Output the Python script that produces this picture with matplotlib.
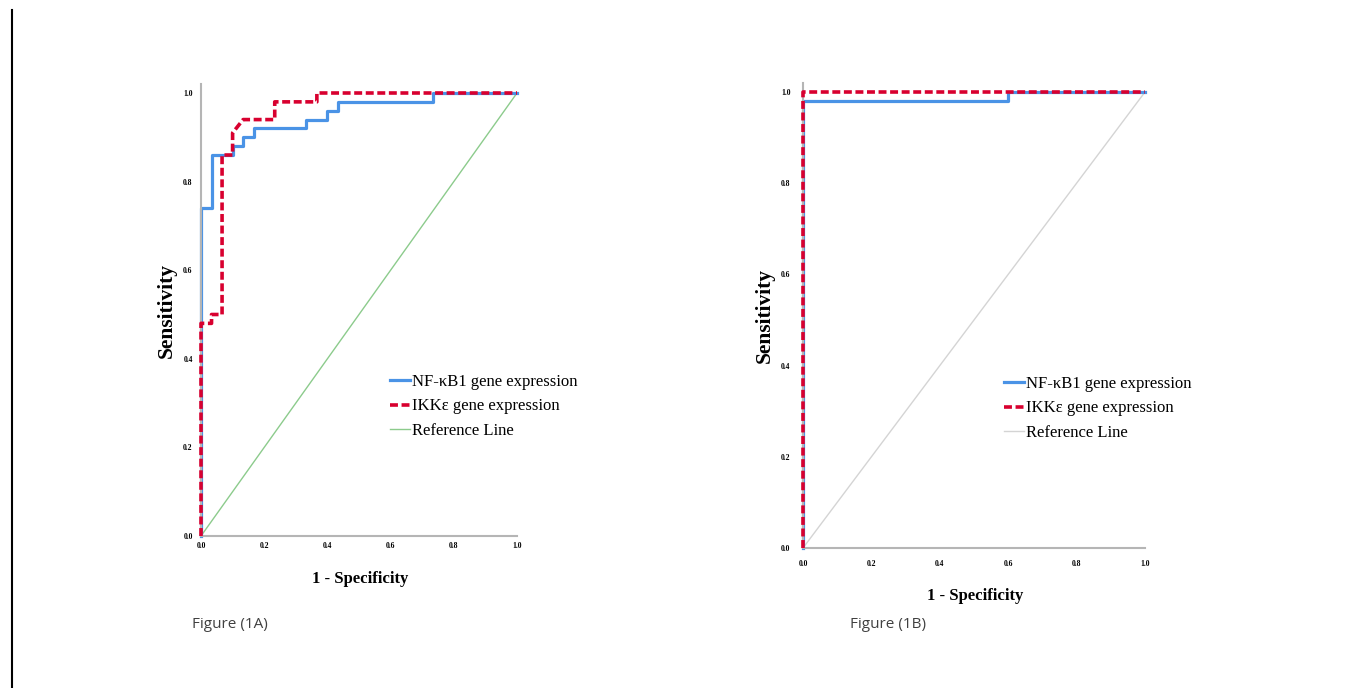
import matplotlib
matplotlib.use("Agg")
import matplotlib.pyplot as plt
from matplotlib.lines import Line2D

# ROC corner points (fpr = 1 - specificity)
a_nfkb_fpr = [0, 0, 1/30, 1/30, 3/30, 3/30, 4/30, 4/30, 5/30, 5/30, 10/30, 10/30,
              12/30, 12/30, 13/30, 13/30, 22/30, 22/30, 1]
a_nfkb_tpr = [0, 0.74, 0.74, 0.86, 0.86, 0.88, 0.88, 0.90, 0.90, 0.92, 0.92, 0.94,
              0.94, 0.96, 0.96, 0.98, 0.98, 1.0, 1.0]
a_ikk_fpr = [0, 0, 1/30, 1/30, 2/30, 2/30, 3/30, 3/30, 4/30, 7/30, 7/30, 11/30, 11/30, 1]
a_ikk_tpr = [0, 0.48, 0.48, 0.50, 0.50, 0.86, 0.86, 0.91, 0.94, 0.94, 0.98, 0.98, 1.0, 1.0]

b_nfkb_fpr = [0, 0, 18/30, 18/30, 1]
b_nfkb_tpr = [0, 0.98, 0.98, 1.0, 1.0]
b_ikk_fpr = [0, 0, 1]
b_ikk_tpr = [0, 1.0, 1.0]

ref_line = [0, 1]
ticks = [0.0, 0.2, 0.4, 0.6, 0.8, 1.0]
labels = ["NF-\u03baB1 gene expression", "IKK\u03b5 gene expression", "Reference Line"]

BLUE = "#4a93e6"
RED = "#d8002f"
SERIF = ["Liberation Serif", "DejaVu Serif"]

W, H = 1364, 688
fig = plt.figure(figsize=(W / 100, H / 100), dpi=100)


def px_axes(x0, x1, y0, y_top):
    # x0/x1: pixel x of 0 and 1; y0: pixel y of 0; y_top: pixel y of spine top
    return fig.add_axes([x0 / W, (H - y0) / H, (x1 - x0) / W, (y0 - y_top) / H])


def draw_panel(ax, nf_x, nf_y, ikk_x, ikk_y, ref_color, ytop, ypad, xpad,
               xlab_pos, ylab_pos, leg_pos):
    ax.plot(ref_line, ref_line, color=ref_color, lw=1.0, label=labels[2], zorder=1)
    ax.plot(nf_x, nf_y, color=BLUE, lw=2.3, label=labels[0], zorder=2, clip_on=False)
    ax.plot(ikk_x, ikk_y, color=RED, lw=2.6, ls=(0, (2.2, 1.0)), label=labels[1],
            zorder=3, clip_on=False)
    ax.set_xlim(0, 1)
    ax.set_ylim(0, ytop)
    ax.set_xticks(ticks)
    ax.set_yticks(ticks)
    ax.set_xticklabels([f"{t:.1f}" for t in ticks])
    ax.set_yticklabels([f"{t:.1f}" for t in ticks])
    for lab in ax.get_xticklabels() + ax.get_yticklabels():
        lab.set_fontfamily(SERIF)
        lab.set_fontweight("bold")
        lab.set_fontsize(5.5)
    ax.tick_params(axis="y", length=0, pad=ypad)
    ax.tick_params(axis="x", length=0, pad=xpad)
    for s in ["top", "right"]:
        ax.spines[s].set_visible(False)
    for s in ["left", "bottom"]:
        ax.spines[s].set_color("#b5b5b5")
        ax.spines[s].set_linewidth(1.5)
    ax.text(xlab_pos[0], xlab_pos[1], "1 - Specificity", transform=ax.transAxes,
            ha="center", va="center", fontsize=12, fontweight="bold", family=SERIF)
    ax.text(ylab_pos[0], ylab_pos[1], "Sensitivity", transform=ax.transAxes,
            ha="center", va="center", rotation=90, fontsize=15.5, fontweight="bold",
            family=SERIF)
    handles, labs = ax.get_legend_handles_labels()
    order = [1, 2, 0]
    leg = ax.legend([handles[i] for i in order], [labs[i] for i in order],
                    loc="upper left", bbox_to_anchor=leg_pos, frameon=False,
                    handlelength=1.2, handletextpad=0.15, labelspacing=0.5,
                    borderpad=0, borderaxespad=0,
                    prop={"family": SERIF, "size": 12})
    return leg


axA = px_axes(201, 517, 536, 84)
draw_panel(axA, a_nfkb_fpr, a_nfkb_tpr, a_ikk_fpr, a_ikk_tpr, "#8ccb8c",
           (536 - 84) / 443, 6, 4,
           (0.503, (536 - 579) / 452), (-0.108, 0.50),
           ((390 - 201) / 316, (536 - 374) / 452))

axB = px_axes(803, 1145, 548, 83)
draw_panel(axB, b_nfkb_fpr, b_nfkb_tpr, b_ikk_fpr, b_ikk_tpr, "#d4d4d4",
           (548 - 83) / 456, 9, 9,
           (0.503, (548 - 596) / 465), (-0.111, 0.50),
           ((1004 - 803) / 342, (548 - 376) / 465))

fig.text(192 / W, 1 - 625 / H, "Figure (1A)", ha="left", va="center",
         fontsize=11, family="Open Sans", color="#404040")
fig.text(850 / W, 1 - 625 / H, "Figure (1B)", ha="left", va="center",
         fontsize=11, family="Open Sans", color="#404040")

fig.add_artist(Line2D([12 / W, 12 / W], [0, 1 - 10 / H], color="black", lw=1.5,
                      transform=fig.transFigure))

fig.savefig("out.png", dpi=100)
